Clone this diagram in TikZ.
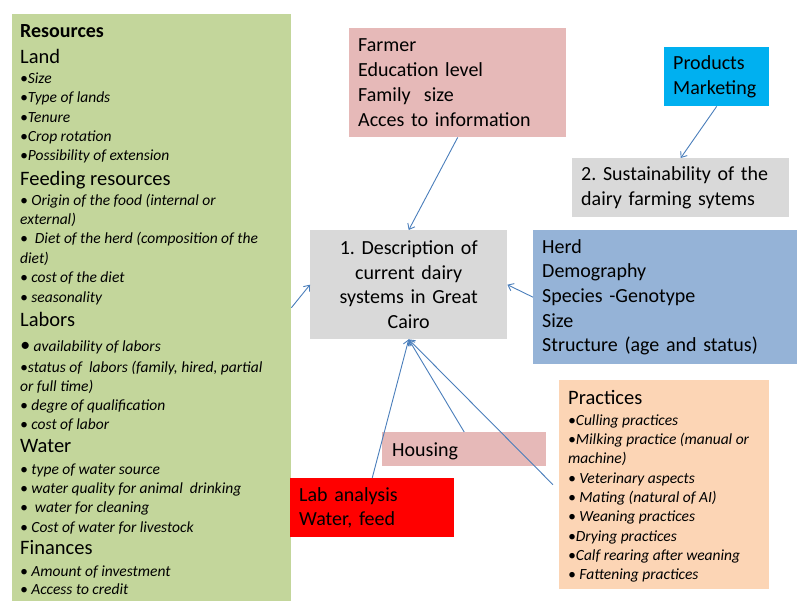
\documentclass[tikz,border=0pt]{standalone}
\usepackage{fontspec}
\setmainfont{Carlito}
\usetikzlibrary{arrows.meta}
\definecolor{greenc}{HTML}{C3D69B}
\definecolor{pinkc}{HTML}{E6B9B8}
\definecolor{cyanc}{HTML}{00B0F0}
\definecolor{grayc}{HTML}{D9D9D9}
\definecolor{herdc}{HTML}{95B3D7}
\definecolor{pracc}{HTML}{FCD5B5}
\definecolor{labc}{HTML}{FF0000}
\definecolor{arrowc}{HTML}{4A7EBB}
\frenchspacing
\tikzset{
  box/.style={draw=none, inner ysep=0pt, anchor=north west, align=left,
    font=\fontsize{20}{24.7}\selectfont},
  plainbox/.style={draw=none, inner sep=0pt, anchor=north west},
  head/.style={anchor=base west, inner sep=0pt, font=\fontsize{20.5}{24}\selectfont},
  bold/.style={anchor=base west, inner sep=0pt, font=\fontsize{20}{22}\selectfont\bfseries},
  item/.style={anchor=base west, inner sep=0pt, font=\fontsize{15.5}{18}\selectfont\itshape},
  conn/.style={draw=arrowc, line width=0.9pt, -{Straight Barb[length=5pt,width=8pt]}}
}
\begin{document}
\begin{tikzpicture}[x=1pt,y=-1pt]
\frenchspacing
\useasboundingbox (0,0) rectangle (797,601);
% resources box
\node[plainbox, fill=greenc, minimum width=279pt, minimum height=587pt] (res) at (12,14) {};
\node[bold] (r0) at (20,38) {Resources};
\node[head] (r1) at (20,63.5) {Land};
\node[item] (r2) at (20,84) {•Size};
\node[item] (r3) at (20,103) {•Type of lands};
\node[item] (r4) at (20,123) {•Tenure};
\node[item] (r5) at (20,142) {•Crop rotation};
\node[item] (r6) at (20,161) {•Possibility of extension};
\node[head] (r7) at (20,185.5) {Feeding resources};
\node[item] (r8) at (20,206) {• Origin of the food (internal or};
\node[item] (r9) at (20,225) {external)};
\node[item] (r10) at (20,244) {•\ \ Diet of the herd (composition of the};
\node[item] (r11) at (20,264) {diet)};
\node[item] (r12) at (20,283) {• cost of the diet};
\node[item] (r13) at (20,302) {• seasonality};
\node[head] (r14) at (20,326.5) {Labors};
\node[item] (r15) at (20,351) {{\fontsize{20}{18}\selectfont •} availability of labors};
\node[item] (r16) at (20,372) {•status of\ \ labors (family, hired, partial};
\node[item] (r17) at (20,391) {or full time)};
\node[item] (r18) at (20,410) {• degre of qualification};
\node[item] (r19) at (20,429) {• cost of labor};
\node[head] (r20) at (20,452.5) {Water};
\node[item] (r21) at (20,474) {• type of water source};
\node[item] (r22) at (20,493) {• water quality for animal\ \ drinking};
\node[item] (r23) at (20,512) {•\ \ water for cleaning};
\node[item] (r24) at (20,532) {• Cost of water for livestock};
\node[head] (r25) at (20,554.5) {Finances};
\node[item] (r26) at (20,576) {• Amount of investment};
\node[item] (r27) at (20,594) {• Access to credit};
% other boxes
\node[box, fill=pinkc, minimum height=109pt, text width=199pt, inner xsep=9pt] (farmer) at (349,28)
  {Farmer\\Education level\\Family\ \ size\\Acces to information};
\node[box, fill=cyanc, minimum height=59pt, text width=87pt, inner xsep=9pt] (prod) at (664,47)
  {Products\\Marketing};
\node[box, fill=grayc, minimum height=59pt, text width=199pt, inner xsep=9pt] (sust) at (572,158)
  {2. Sustainability of the\\dairy farming sytems};
\node[box, fill=grayc, minimum height=109pt, text width=185pt, inner xsep=6pt, align=center] (desc) at (310,230)
  {1. Description of\\current dairy\\systems in Great\\Cairo};
\node[box, fill=herdc, minimum height=134pt, text width=246pt, inner xsep=9pt] (herd) at (533,230)
  {Herd\\Demography\\Species -Genotype\\Size\\Structure (age and status)};
\node[box, fill=pinkc, minimum height=34pt, text width=144pt, inner xsep=10pt, text depth=0pt] (hous) at (382,432)
  {Housing};
\node[box, fill=labc, minimum height=59pt, text width=146pt, inner xsep=9pt, font=\fontsize{20}{24}\selectfont] (lab) at (290,478)
  {Lab analysis\\Water, feed};
% practices
\node[plainbox, fill=pracc, minimum width=210pt, minimum height=209pt] (prac) at (559,380) {};
\node[head] (p0) at (568,404.5) {Practices};
\node[item] (p1) at (568,425) {•Culling practices};
\node[item] (p2) at (568,444) {•Milking practice (manual or};
\node[item] (p3) at (568,463) {machine)};
\node[item] (p4) at (568,483) {• Veterinary aspects};
\node[item] (p5) at (568,502) {• Mating (natural of AI)};
\node[item] (p6) at (568,521) {• Weaning practices};
\node[item] (p7) at (568,541) {•Drying practices};
\node[item] (p8) at (568,560) {•Calf rearing after weaning};
\node[item] (p9) at (568,579) {• Fattening practices};
% connectors
\coordinate (pracend) at ([xshift=-6pt]prac.west);
\draw[conn] (farmer.south) -- (desc.north);
\draw[conn] (prod.south) -- (sust.north);
\draw[conn] (herd.west) -- (desc.east);
\draw[conn] (res.east) -- (desc.west);
\draw[conn] (lab.north) -- (desc.south);
\draw[conn] (hous.north) -- (desc.south);
\draw[conn] (pracend) -- (desc.south);
\end{tikzpicture}
\end{document}
